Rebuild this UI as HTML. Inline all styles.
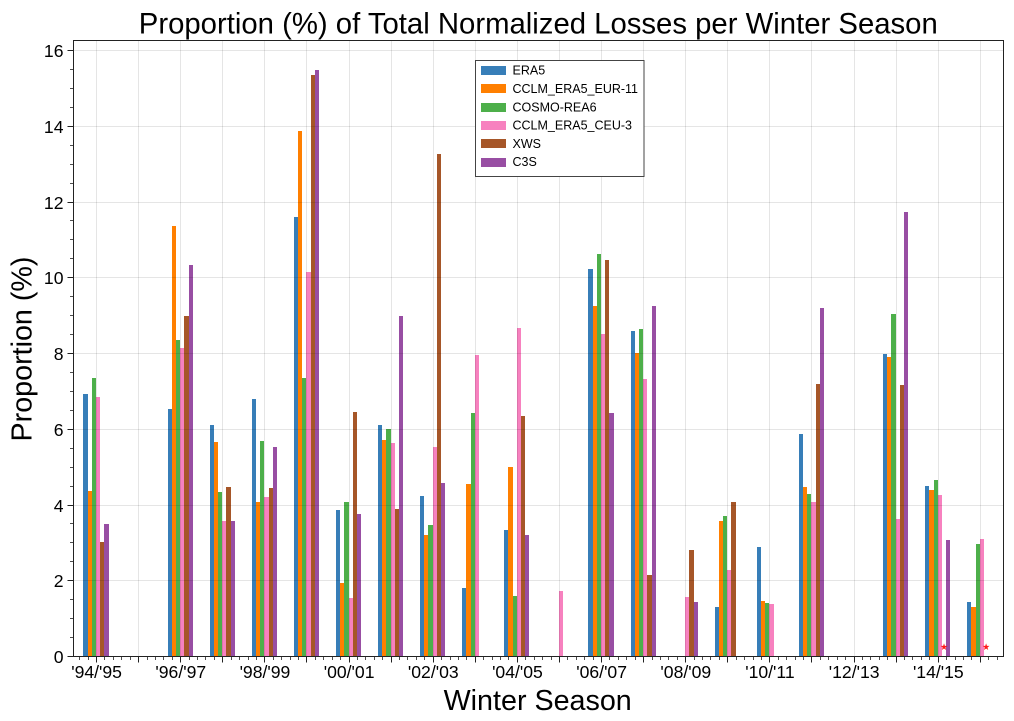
<!DOCTYPE html>
<html>
<head>
<meta charset="utf-8">
<title>Proportion of Total Normalized Losses per Winter Season</title>
<style>
html,body{margin:0;padding:0;background:#fff;width:1014px;height:721px;overflow:hidden}
svg{display:block}
text{font-family:"Liberation Sans",sans-serif;fill:#000}
</style>
</head>
<body>
<svg id="chart" width="1014" height="721" viewBox="0 0 1014 721" xmlns="http://www.w3.org/2000/svg">
  <rect x="0" y="0" width="1014" height="721" fill="#fff"/>
  <g id="bars" shape-rendering="crispEdges"></g>
  <g id="grid"></g>
  <g id="stars"></g>
  <rect x="73.5" y="40.5" width="930" height="616" fill="none" stroke="#222" stroke-width="1"/>
  <g id="ticks"></g>
  <g id="labels"></g>
  <text x="538.3" y="33.3" font-size="29.3" text-anchor="middle">Proportion (%) of Total Normalized Losses per Winter Season</text>
  <text x="537.7" y="710" font-size="28.7" text-anchor="middle">Winter Season</text>
  <text transform="translate(31.7 349) rotate(-90)" font-size="28.7" text-anchor="middle">Proportion (%)</text>
  <g id="legend"></g>
</svg>
<script>
var seasons = ["'94/'95","'95/'96","'96/'97","'97/'98","'98/'99","'99/'00","'00/'01","'01/'02","'02/'03","'03/'04","'04/'05","'05/'06","'06/'07","'07/'08","'08/'09","'09/'10","'10/'11","'11/'12","'12/'13","'13/'14","'14/'15","'15/'16"];
var seriesNames = ["ERA5","CCLM_ERA5_EUR-11","COSMO-REA6","CCLM_ERA5_CEU-3","XWS","C3S"];
var seriesColors = ["#377eb8","#ff7f00","#4daf4a","#f781bf","#a65628","#984ea3"];
var era5 = [6.93,0,6.53,6.1,6.8,11.6,3.87,6.1,4.25,1.8,3.33,0,10.23,8.6,0,1.3,2.88,5.87,0,7.98,4.5,1.45];
var cclmEur11 = [4.37,0,11.37,5.67,4.08,13.87,1.95,5.72,3.2,4.55,5.0,0,9.25,8.02,0,3.57,1.47,4.47,0,7.92,4.4,1.3];
var cosmoRea6 = [7.35,0,8.37,4.35,5.7,7.35,4.07,6.0,3.47,6.42,1.6,0,10.62,8.65,0,3.7,1.4,4.3,0,9.05,4.65,2.97];
var cclmCeu3 = [6.85,0,8.15,3.58,4.2,10.15,1.55,5.63,5.53,7.95,8.67,1.72,8.52,7.33,1.57,2.28,1.38,4.08,0,3.63,4.27,3.1];
var xws = [3.02,0,9.0,4.47,4.45,15.35,6.45,3.9,13.27,0,6.35,0,10.47,2.15,2.8,4.08,0,7.2,0,7.18,0,0];
var c3s = [3.5,0,10.33,3.58,5.52,15.5,3.77,9.0,4.58,0,3.2,0,6.43,9.25,1.43,0,0,9.2,0,11.75,3.07,0];
var yMajorTicks = [0,2,4,6,8,10,12,14,16];
var yMinorStep = 0.5;
var starSeasons = ["'14/'15","'15/'16"];
var starValues = [0.25,0.25];
var allSeries = [era5,cclmEur11,cosmoRea6,cclmCeu3,xws,c3s];

var NS = "http://www.w3.org/2000/svg";
var PLOT = {left:73.5, right:1003.5, top:40.5, bottom:656.5};
function xAxis(i){ return 96 + 42.086 * i; }
function yAxis(v){ return 656.5 - 37.87 * v; }
function snapX(x){ return Math.round(x) + 0.5; }
function snapY(y){ return Math.floor(y) + 0.5; }
var BAR_W = 4.2;
function make(tag, attrs, parent){
  var el = document.createElementNS(NS, tag);
  for (var k in attrs) el.setAttribute(k, attrs[k]);
  parent.appendChild(el);
  return el;
}
var barsG = document.getElementById("bars");
var gridG = document.getElementById("grid");
var ticksG = document.getElementById("ticks");
var labelsG = document.getElementById("labels");
var starsG = document.getElementById("stars");
var legendG = document.getElementById("legend");

allSeries.forEach(function(vals, s){
  vals.forEach(function(v, i){
    if (!v) return;
    var x0 = Math.round(xAxis(i) + (s-3)*BAR_W);
    var x1 = Math.round(xAxis(i) + (s-2)*BAR_W);
    var y0 = Math.round(yAxis(v));
    var r = make("rect", {x:x0, y:y0, width:x1-x0, height:656-y0, fill:seriesColors[s]}, barsG);
    
    
  });
});

seasons.forEach(function(lab, i){
  var x = snapX(xAxis(i));
  var g = make("line", {x1:x, x2:x, y1:PLOT.top, y2:PLOT.bottom, stroke:"#000", "stroke-opacity":0.1, "stroke-width":1}, gridG);
  
  
  var t = make("line", {x1:x, x2:x, y1:PLOT.bottom, y2:PLOT.bottom+6, stroke:"#222", "stroke-width":1}, ticksG);
  
  
  if (i % 2 === 0) {
    var l = make("text", {x:xAxis(i)+0.6, y:678, "font-size":17.6, "text-anchor":"middle"}, labelsG);
    l.textContent = lab;
    
    
  }
});
for (var m = -2; m <= 112; m++) {
  if (m % 5 === 0) continue;
  var mx = snapX(xAxis(m / 5));
  if (mx < PLOT.left || mx > PLOT.right) continue;
  var mt = make("line", {x1:mx, x2:mx, y1:PLOT.bottom, y2:PLOT.bottom+3.5, stroke:"#222", "stroke-width":0.8}, ticksG);
  
  
}
yMajorTicks.forEach(function(v){
  var y = snapY(yAxis(v));
  var g = make("line", {x1:PLOT.left, x2:PLOT.right, y1:y, y2:y, stroke:"#000", "stroke-opacity":0.1, "stroke-width":1}, gridG);
  
  
  var t = make("line", {x1:PLOT.left-6, x2:PLOT.left, y1:y, y2:y, stroke:"#222", "stroke-width":1}, ticksG);
  
  
  var l = make("text", {x:63.5, y:y+6.3, "font-size":17.6, "text-anchor":"end"}, labelsG);
  l.textContent = String(v);
  
  
});
for (var mv = 0; mv <= 16; mv += yMinorStep) {
  if (mv % 2 === 0) continue;
  var my = snapY(yAxis(mv));
  var ymt = make("line", {x1:PLOT.left-3.5, x2:PLOT.left, y1:my, y2:my, stroke:"#222", "stroke-width":0.8}, ticksG);
  
  
}

function starPoints(cx, cy, R){
  var pts = [];
  for (var i = 0; i < 10; i++) {
    var rad = i % 2 === 0 ? R : R * 0.4;
    var a = -Math.PI / 2 + i * Math.PI / 5;
    pts.push((cx + rad * Math.cos(a)).toFixed(2) + "," + (cy + rad * Math.sin(a)).toFixed(2));
  }
  return pts.join(" ");
}
starSeasons.forEach(function(name, n){
  var cx = xAxis(seasons.indexOf(name)) + 1.5 * BAR_W;
  var st = make("polygon", {points:starPoints(cx, yAxis(starValues[n]), 3.6), fill:"#ff0000", "fill-opacity":0.9}, starsG);
  
  
});

var box = make("rect", {x:475.5, y:60.5, width:168.5, height:116, fill:"#fff", stroke:"#444", "stroke-width":1}, legendG);


seriesNames.forEach(function(name, s){
  var cy = 70.5 + s * 18.3;
  var sw = make("rect", {x:481, y:Math.round(cy-4.5), width:25, height:9, fill:seriesColors[s], "shape-rendering":"crispEdges"}, legendG);
  
  
  var tx = make("text", {x:512.5, y:cy+4.2, "font-size":12.5}, legendG);
  tx.textContent = name;
  
  
});
</script>
</body>
</html>
